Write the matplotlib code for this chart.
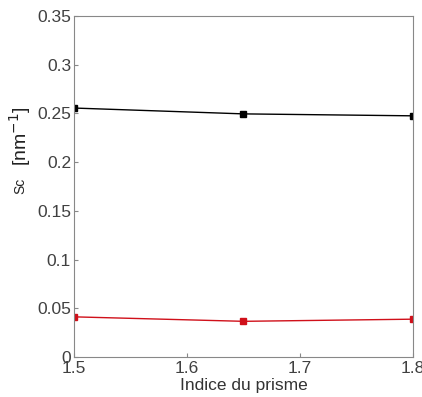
import matplotlib.pyplot as plt

x = [1.5, 1.65, 1.8]
sc_black = [0.2555, 0.2495, 0.2475]
sc_red = [0.0412, 0.0366, 0.0388]

plt.rcParams['font.family'] = ['Liberation Sans', 'DejaVu Sans']

fig = plt.figure(figsize=(4.22, 3.97), dpi=100)
ax = fig.add_axes([0.175, 0.1008, 0.804, 0.859])

ax.plot(x, sc_black, color='black', marker='s', markersize=4, linewidth=1)
ax.plot(x, sc_red, color='#d0101a', marker='s', markersize=4, linewidth=1)

ax.set_xlim(1.5, 1.8)
ax.set_ylim(0, 0.35)
ax.set_xticks([1.5, 1.6, 1.7, 1.8])
ax.set_xticklabels(['1.5', '1.6', '1.7', '1.8'])
ax.set_yticks([0, 0.05, 0.1, 0.15, 0.2, 0.25, 0.3, 0.35])
ax.set_yticklabels(['0', '0.05', '0.1', '0.15', '0.2', '0.25', '0.3', '0.35'])

ax.tick_params(direction='in', length=3, colors='#888888', labelcolor='#404040',
               labelsize=12.5, pad=2)
ax.tick_params(axis='x', pad=3)
for s in ax.spines.values():
    s.set_color('#888888')

ax.set_xlabel('Indice du prisme', fontsize=12.5, color='#333333', labelpad=1)

# y label: small "Sc" then larger unit, as in the original
fig.text(20 / 422, 1 - 186 / 397, 'Sc', rotation=90, fontsize=10,
         color='#222222', ha='center', va='center')
fig.text(20 / 422, 1 - 136 / 397, '[nm$^{-1}$]', rotation=90, fontsize=14,
         color='#222222', ha='center', va='center')

fig.savefig('out.png', dpi=100)
